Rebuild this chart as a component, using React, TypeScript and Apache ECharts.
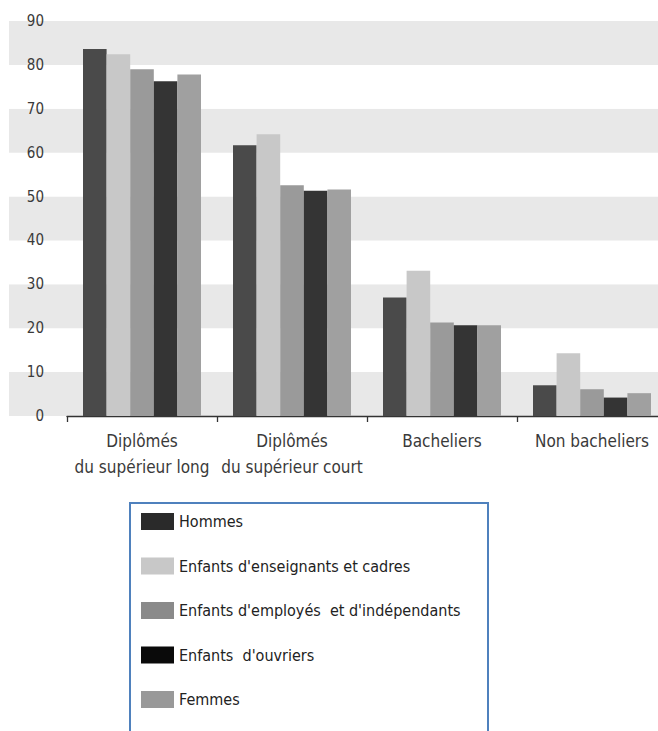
import React, { useEffect, useRef } from "react";
import * as echarts from "echarts";

const categories = [
  "Diplômés\ndu supérieur long",
  "Diplômés\ndu supérieur court",
  "Bacheliers",
  "Non bacheliers",
];
const seriesNames = [
  "Hommes",
  "Enfants d'enseignants et cadres",
  "Enfants d'employés  et d'indépendants",
  "Enfants  d'ouvriers",
  "Femmes",
];
const hommes = [83.6, 61.7, 27.0, 7.0];
const enseignants = [82.4, 64.2, 33.1, 14.3];
const employes = [79.0, 52.6, 21.3, 6.1];
const ouvriers = [76.3, 51.3, 20.7, 4.2];
const femmes = [77.8, 51.6, 20.7, 5.2];
const seriesValues = [hommes, enseignants, employes, ouvriers, femmes];
const barColors = ["#4a4a4a", "#c8c8c8", "#9a9a9a", "#343434", "#a0a0a0"];
const legendColors = ["#2a2a2a", "#c8c8c8", "#8a8a8a", "#0a0a0a", "#999999"];

const FONT = "'DejaVu Sans Condensed', 'Liberation Sans Narrow', 'Liberation Sans', sans-serif";

export default function App() {
  const ref = useRef<HTMLDivElement>(null);
  useEffect(() => {
    if (!ref.current) return;
    const chart = echarts.init(ref.current, undefined, { renderer: "svg" });
    chart.setOption({
      animation: false,
      textStyle: { fontFamily: FONT },
      grid: [
        { left: 67, top: 21, width: 600, height: 395 },
        { left: 9, top: 21, right: 0, height: 395 },
      ],
      xAxis: [
        {
          type: "category",
          gridIndex: 0,
          data: categories,
          axisLine: { lineStyle: { color: "#333", width: 1.3 } },
          axisTick: { show: true, interval: 0, length: 6, lineStyle: { color: "#333", width: 1.3 } },
          axisLabel: {
            interval: 0,
            color: "#3a3a3a",
            fontSize: 17,
            lineHeight: 26,
            margin: 12,
            fontFamily: FONT,
          },
        },
        { type: "category", gridIndex: 1, show: false, data: ["a"] },
      ],
      yAxis: [
        {
          type: "value",
          gridIndex: 0,
          min: 0,
          max: 90,
          interval: 10,
          axisLine: { show: false },
          axisTick: { show: false },
          splitLine: { show: false },
          axisLabel: { color: "#3a3a3a", fontSize: 15, margin: 23, fontFamily: FONT },
        },
        {
          type: "value",
          gridIndex: 1,
          min: 0,
          max: 90,
          interval: 10,
          axisLine: { show: false },
          axisTick: { show: false },
          axisLabel: { show: false },
          splitLine: { show: false },
          splitArea: { show: true, areaStyle: { color: ["#e8e8e8", "#ffffff"] } },
        },
      ],
      legend: {
        orient: "vertical",
        left: 141,
        top: 513,
        padding: 0,
        icon: "rect",
        itemWidth: 33,
        itemHeight: 17,
        itemGap: 27.5,
        itemTextGap: 16,
        textStyle: { color: "#222", fontSize: 16, fontFamily: FONT },
        data: seriesNames.map((n, i) => ({ name: n, itemStyle: { color: legendColors[i] } })),
      },
      graphic: [
        {
          type: "rect",
          shape: { x: 130, y: 503, width: 358, height: 300 },
          style: { fill: "none", stroke: "#4f81bd", lineWidth: 2 },
        },
      ],
      series: seriesNames.map((n, i) => ({
        name: n,
        type: "bar",
        xAxisIndex: 0,
        yAxisIndex: 0,
        data: seriesValues[i],
        barWidth: 23.6,
        barGap: "0%",
        itemStyle: { color: barColors[i] },
      })),
    });
    return () => chart.dispose();
  }, []);
  return (
    <div
      style={{ position: "fixed", left: 0, top: 0, width: 658, height: 731, overflow: "hidden", background: "#fff" }}
    >
      <div ref={ref} style={{ width: 690, height: 731 }} />
    </div>
  );
}
